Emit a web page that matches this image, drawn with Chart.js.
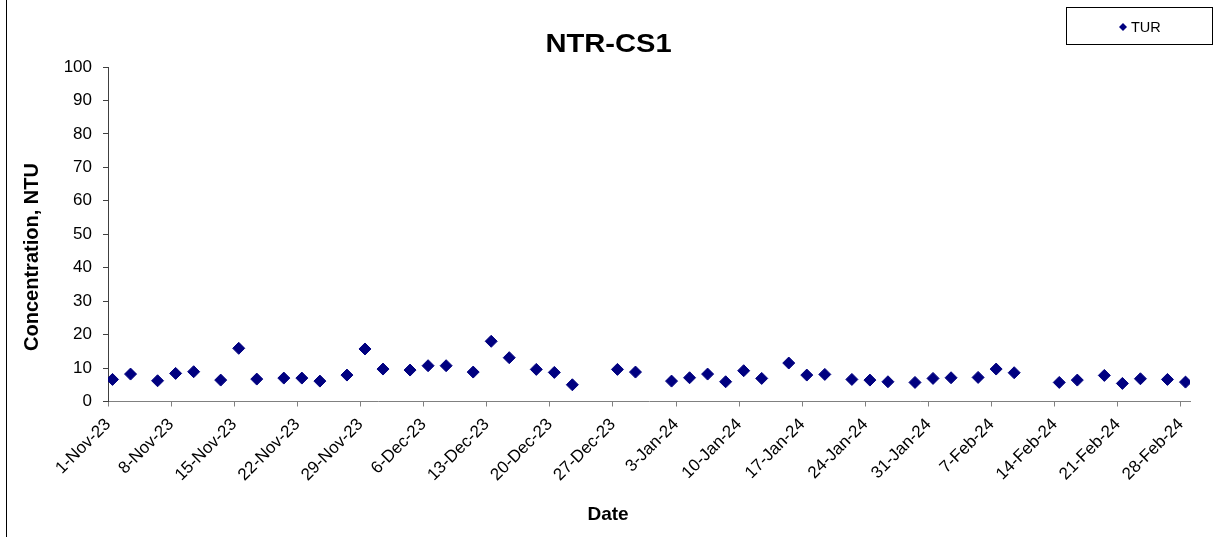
<!DOCTYPE html>
<html>
<head>
<meta charset="utf-8">
<title>NTR-CS1</title>
<script src="https://cdn.jsdelivr.net/npm/chart.js@4.4.1/dist/chart.umd.min.js"></script>
<style>
  html, body { margin: 0; padding: 0; background: #fff; }
  #wrap { width: 1214px; height: 537px; }
</style>
</head>
<body>
<div id="wrap"><canvas id="turChart" width="1214" height="537"></canvas></div>
<script>
// --- data ---
const sampleDates = [
  '2023-11-01', '2023-11-03', '2023-11-06', '2023-11-08', '2023-11-10', '2023-11-13',
  '2023-11-15', '2023-11-17', '2023-11-20', '2023-11-22', '2023-11-24', '2023-11-27',
  '2023-11-29', '2023-12-01', '2023-12-04', '2023-12-06', '2023-12-08', '2023-12-11',
  '2023-12-13', '2023-12-15', '2023-12-18', '2023-12-20', '2023-12-22', '2023-12-27',
  '2023-12-29', '2024-01-02', '2024-01-04', '2024-01-06', '2024-01-08', '2024-01-10',
  '2024-01-12', '2024-01-15', '2024-01-17', '2024-01-19', '2024-01-22', '2024-01-24',
  '2024-01-26', '2024-01-29', '2024-01-31', '2024-02-02', '2024-02-05', '2024-02-07',
  '2024-02-09', '2024-02-14', '2024-02-16', '2024-02-19', '2024-02-21', '2024-02-23',
  '2024-02-26', '2024-02-28'
];
const turValues = [
  6.6, 8.2, 6.2, 8.4, 8.9, 6.4,
  15.9, 6.7, 7.0, 7.0, 6.1, 7.9,
  15.7, 9.7, 9.4, 10.7, 10.7, 8.8,
  18.0, 13.1, 9.6, 8.7, 5.0, 9.6,
  8.8, 6.1, 7.1, 8.2, 5.9, 9.2,
  6.9, 11.5, 7.9, 8.1, 6.6, 6.4,
  5.9, 5.7, 6.9, 7.1, 7.2, 9.7,
  8.6, 5.7, 6.4, 7.8, 5.4, 6.8,
  6.6, 5.8
];
const tickLabels = [
  '1-Nov-23', '8-Nov-23', '15-Nov-23', '22-Nov-23', '29-Nov-23', '6-Dec-23',
  '13-Dec-23', '20-Dec-23', '27-Dec-23', '3-Jan-24', '10-Jan-24', '17-Jan-24',
  '24-Jan-24', '31-Jan-24', '7-Feb-24', '14-Feb-24', '21-Feb-24', '28-Feb-24'
];
const axisStart = '2023-11-01';
const axisEnd = '2024-02-29';
const yMin = 0, yMax = 100, yStep = 10;

const chartTitle = 'NTR-CS1';
const seriesLabel = 'TUR';
const yTitle = 'Concentration, NTU';
const xTitle = 'Date';

// --- helpers: dates -> day number on a linear axis ---
const DAY = 86400000;
const MONTHS = { Jan: 0, Feb: 1, Mar: 2, Apr: 3, May: 4, Jun: 5, Jul: 6, Aug: 7, Sep: 8, Oct: 9, Nov: 10, Dec: 11 };
const startMs = Date.parse(axisStart + 'T00:00:00Z');
const toDay = iso => (Date.parse(iso + 'T00:00:00Z') - startMs) / DAY;
const tickDay = label => {
  const [d, m, y] = label.split('-');
  return (Date.UTC(2000 + Number(y), MONTHS[m], Number(d)) - startMs) / DAY;
};

// Excel draws each point in the middle of its day
const points = sampleDates.map((d, i) => ({ x: toDay(d) + 0.5, y: turValues[i] }));

const FONT = '"Liberation Sans", Arial, sans-serif';
const NAVY = '#000080';

// titles, legend box and left border of the original chart frame
// (Excel centres these on the whole chart, not on the plot area)
const chartFrame = {
  id: 'chartFrame',
  afterDraw(chart) {
    const { ctx } = chart;
    ctx.save();
    ctx.fillStyle = '#000';
    ctx.fillRect(6, 0, 1, chart.height);

    // chart title, a little stretched like the original
    ctx.save();
    ctx.translate(608.5, 52);
    ctx.scale(1.12, 1);
    ctx.font = 'bold 26px ' + FONT;
    ctx.textAlign = 'center';
    ctx.textBaseline = 'alphabetic';
    ctx.fillText(chartTitle, 0, 0);
    ctx.restore();

    // axis titles
    ctx.font = 'bold 19px ' + FONT;
    ctx.textAlign = 'center';
    ctx.textBaseline = 'alphabetic';
    ctx.fillText(xTitle, 608, 520);

    ctx.save();
    ctx.translate(38, 257);
    ctx.rotate(-Math.PI / 2);
    ctx.font = 'bold 20px ' + FONT;
    ctx.fillText(yTitle, 0, 0);
    ctx.restore();

    // legend
    ctx.strokeStyle = '#000';
    ctx.lineWidth = 1;
    ctx.strokeRect(1066.5, 7.5, 146, 37);

    ctx.fillStyle = NAVY;
    ctx.beginPath();
    ctx.moveTo(1119, 27);
    ctx.lineTo(1123, 23);
    ctx.lineTo(1127, 27);
    ctx.lineTo(1123, 31);
    ctx.closePath();
    ctx.fill();

    ctx.fillStyle = '#000';
    ctx.font = '14.5px ' + FONT;
    ctx.textAlign = 'left';
    ctx.textBaseline = 'middle';
    ctx.fillText(chart.data.datasets[0].label, 1131, 27.5);
    ctx.restore();
  }
};

new Chart(document.getElementById('turChart'), {
  type: 'scatter',
  data: {
    datasets: [{
      label: seriesLabel,
      data: points,
      pointStyle: 'rectRot',
      pointRadius: 6,
      pointHoverRadius: 6,
      backgroundColor: NAVY,
      borderColor: NAVY,
      borderWidth: 1
    }]
  },
  options: {
    responsive: false,
    animation: false,
    devicePixelRatio: 1,
    layout: { padding: { left: 8, right: 24, top: 67, bottom: 0 } },
    plugins: {
      legend: { display: false },
      title: { display: false },
      tooltip: { enabled: false }
    },
    scales: {
      x: {
        type: 'linear',
        min: 0,
        max: toDay(axisEnd),
        afterBuildTicks: scale => {
          scale.ticks = tickLabels.map(t => ({ value: tickDay(t) }));
        },
        afterFit: scale => { scale.height = 135.5; },
        grid: {
          drawOnChartArea: false,
          drawTicks: true,
          tickLength: 5,
          color: '#808080'
        },
        border: { display: true, color: '#808080' },
        ticks: {
          autoSkip: false,
          minRotation: 45,
          maxRotation: 45,
          padding: 8,
          color: '#000',
          font: { family: FONT, size: 17 },
          callback: (value, index) => tickLabels[index]
        }
      },
      y: {
        min: yMin,
        max: yMax,
        afterFit: scale => { scale.width = 100; },
        grid: {
          drawOnChartArea: false,
          drawTicks: true,
          tickLength: 5,
          color: '#404040'
        },
        border: { display: true, color: '#404040' },
        ticks: {
          stepSize: yStep,
          padding: 11,
          color: '#000',
          font: { family: FONT, size: 17 }
        }
      }
    }
  },
  plugins: [chartFrame]
});
</script>
</body>
</html>
